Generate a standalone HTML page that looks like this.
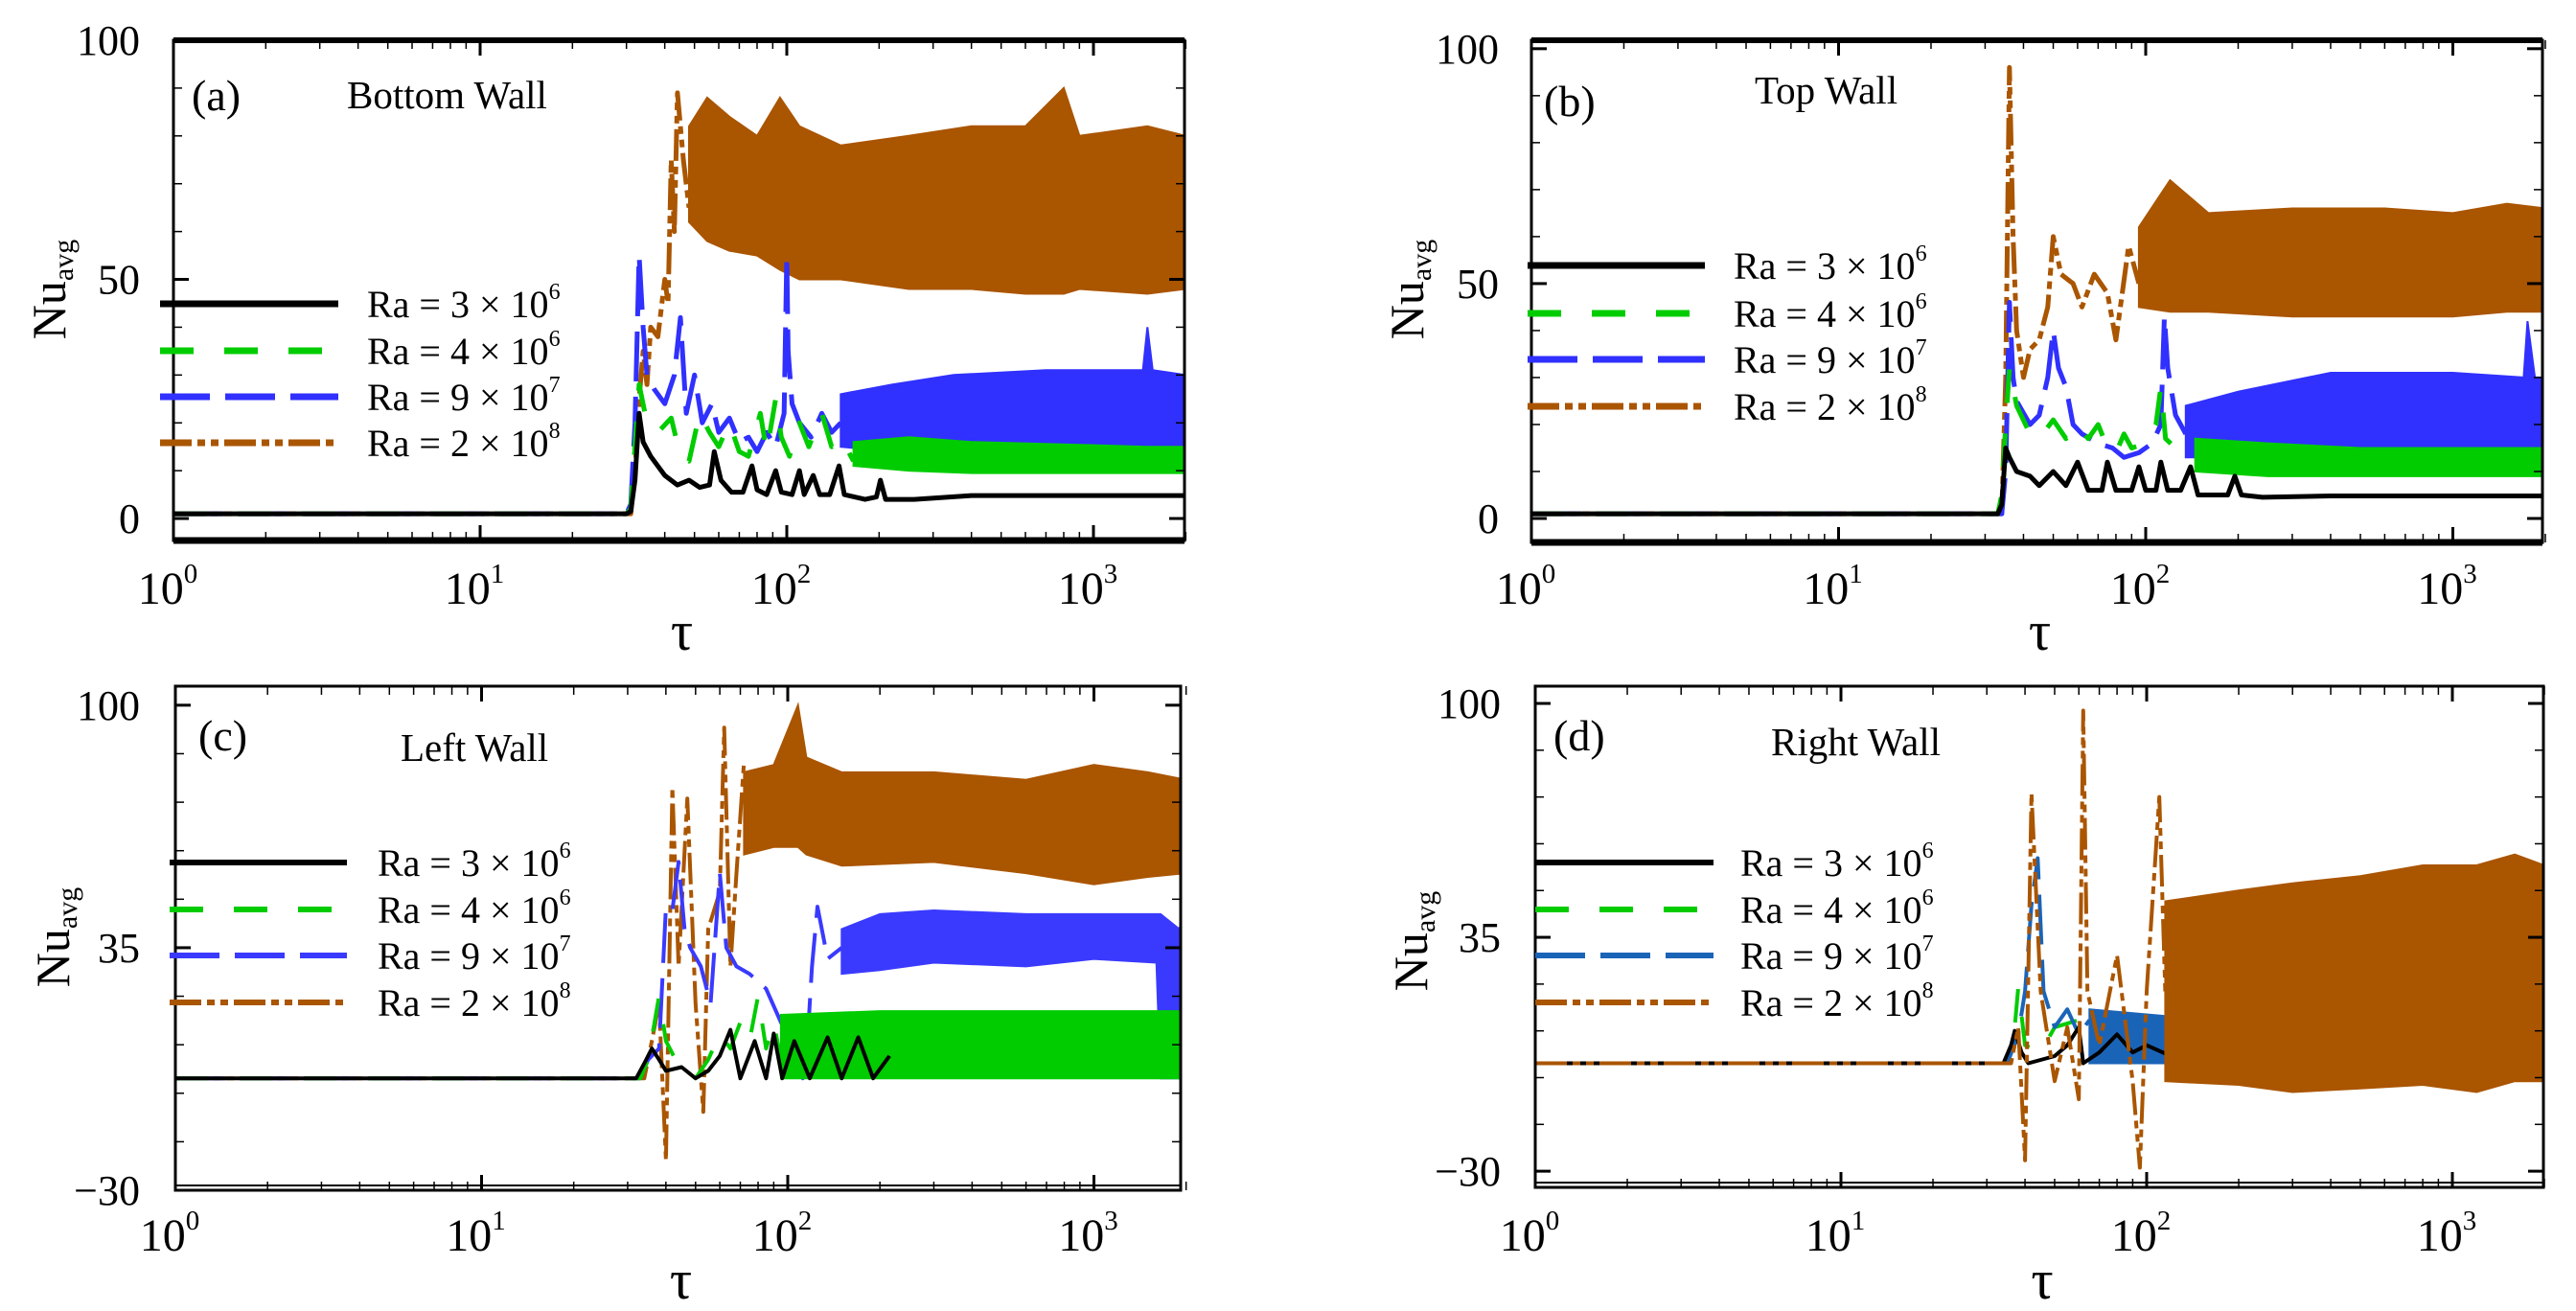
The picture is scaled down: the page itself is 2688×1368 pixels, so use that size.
<!DOCTYPE html>
<html><head><meta charset="utf-8"><style>
html,body{margin:0;padding:0;background:#fff;}
svg{display:block;}
text{font-family:"Liberation Serif",serif;fill:#000;}
</style></head><body>
<svg id="fig" width="2688" height="1368" viewBox="0 0 2688 1368" xmlns="http://www.w3.org/2000/svg"></svg>
<script>
// ---------- data (tau, Nu) traces and (tau, lo, hi) oscillation bands ----------
const A_black=[[1,1],[30,1],[31,1.5],[32,8],[33,22],[34,16],[36,13],[40,9],[44,7],[48,8],[52,6.5],[56,7],[58,14],[61,8],[66,5.5],[72,5.5],[77,11],[80,6],[86,5],[92,10],[96,5.5],[104,5],[110,10],[114,5],[122,9],[128,5],[138,5],[148,11],[154,5],[180,4],[196,4.5],[202,8],[210,4],[260,4],[400,4.8],[2000,4.8]];
const A_green=[[1,1],[30,1],[31,2],[33,28],[35,20],[38,18],[42,21],[45,13],[48,12],[52,22],[56,18],[60,15],[65,20],[70,14],[75,13],[82,22],[86,14],[92,25],[96,17],[102,13],[110,20],[118,15],[130,22],[140,15],[150,17],[165,12]];
const A_greenBand=[[165,11,16],[250,10,17],[400,9.5,16],[800,9.5,15.5],[1500,9.5,15],[2000,9.5,15]];
const A_blue=[[1,1],[30,1],[31,3],[32,20],[33,55],[34,40],[35,30],[37,27],[40,24],[43,30],[45,42],[47,22],[50,30],[53,20],[57,24],[60,18],[65,21],[70,16],[75,17],[80,14],[86,18],[92,15],[98,22],[100,55],[101,35],[104,24],[110,20],[120,17],[130,22],[140,18],[150,20]];
const A_blueBand=[[150,15,26],[220,14,28],[350,13.5,30],[700,13,31],[1200,13,31],[1450,14,31],[1500,14,40],[1560,14,31],[2000,14,30]];
const A_orange=[[1,1],[31,1],[32,10],[33,25],[34,35],[35,28],[36,40],[38,38],[40,50],[41,45],[42,75],[43,60],[44,89],[46,75],[48,65]];
const A_orangeBand=[[48,62,82],[55,58,88],[65,56,84],[80,55,80],[95,52,88],[110,50,82],[150,50,78],[250,48,80],[400,48,82],[600,47,82],[800,47,90],[900,48,80],[1500,47,82],[2000,48,80]];

const B_black=[[1,1],[33,1],[34,3],[35,15],[36,13],[38,10],[42,9],[45,7],[50,10],[55,7],[60,12],[65,6],[72,6],[75,12],[80,6],[90,6],[95,11],[100,6],[108,6],[112,12],[118,6],[130,6],[140,11],[148,5],[185,5],[195,9],[205,5],[240,4.5],[400,4.8],[2000,4.8]];
const B_green=[[1,1],[33,1],[34,5],[35,20],[36,32],[38,24],[42,18],[45,17],[50,21],[55,17],[60,20],[65,17],[70,20],[75,15],[80,14],[85,18],[90,15],[100,16],[108,20],[112,28],[116,17],[130,14],[145,15]];
const B_greenBand=[[145,10,17],[250,9,16],[500,9,15],[1000,9,15],[2000,9,15]];
const B_blue=[[1,1],[34,1],[35,10],[36,46],[37,30],[38,25],[42,20],[45,22],[48,30],[50,40],[52,32],[55,28],[58,20],[62,18],[70,16],[78,15],[85,13],[95,14],[105,16],[112,20],[115,43],[118,32],[125,22],[135,18]];
const B_blueBand=[[135,13,24],[200,13,27],[400,13,31],[1000,13,31],[1700,13,30],[1750,14,42],[1850,13,30],[2000,14,30]];
const B_orange=[[1,1],[34,1],[35,30],[36,96],[37,60],[38,40],[40,30],[42,36],[45,38],[48,45],[50,60],[53,52],[58,50],[62,45],[68,52],[75,48],[80,38],[88,58],[95,50]];
const B_orangeBand=[[95,45,62],[120,44,72],[160,44,65],[300,43,66],[600,43,66],[1000,43,65],[1500,44,67],[2000,44,66]];

const C_black=[[1,0],[32,0],[34,4],[36,8],[38,5],[40,2],[45,3],[50,0],[55,2],[60,6],[65,13],[70,0],[78,10],[85,0],[90,12],[96,0],[105,10],[118,0],[135,11],[150,0],[170,11],[190,0],[215,6]];
const C_green=[[1,0],[33,0],[35,5],[38,22],[40,10],[43,5],[47,2],[50,0],[55,5],[60,12],[65,8],[70,15],[75,10],[80,22],[85,8],[90,15],[95,5]];
const C_greenBand=[[95,0,17],[200,0,18],[500,0,18],[1000,0,18],[2000,0,18]];
const C_blue=[[1,0],[33,0],[35,5],[38,8],[40,46],[42,45],[44,58],[46,40],[48,35],[52,30],[56,20],[60,55],[63,35],[68,30],[75,28],[85,24],[95,15],[105,8],[112,0],[116,10],[120,30],[125,46],[135,32],[150,35]];
const C_blueBand=[[150,28,40],[200,29,44],[300,31,45],[600,30,44],[1000,32,44],[1600,31,44],[1650,0,44],[1900,0,40],[2000,32,46]];
const C_orange=[[1,0],[34,0],[36,10],[38,20],[40,-22],[42,78],[44,30],[47,75],[50,20],[53,-9],[55,40],[60,50],[62,94],[65,30],[68,55],[72,85]];
const C_orangeBand=[[72,60,82],[90,62,84],[108,62,100],[115,60,86],[150,57,82],[300,58,82],[600,55,80],[1000,52,84],[1500,54,82],[2000,55,80]];

const D_black=[[1,0],[34,0],[36,5],[37,9],[39,3],[41,0],[50,2],[55,5],[60,10],[62,0],[70,3],[80,8],[90,3],[100,5],[120,2],[200,2],[2000,1]];
const D_green=[[1,0],[35,0],[37,10],[38,21],[40,5],[45,3],[50,10],[60,12],[70,15],[75,6]];
const D_greenBand=[[75,0,9],[200,0,8],[1000,0,8],[2000,0,8]];
const D_blue=[[1,0],[35,0],[38,8],[40,20],[42,44],[44,57],[46,20],[50,10],[55,15],[60,8],[65,12]];
const D_blueBand=[[65,0,15],[120,0,13],[300,0,12],[1000,0,12],[2000,0,10]];
const D_orange=[[1,0],[36,0],[38,10],[40,-27],[42,75],[45,20],[50,-5],[55,10],[60,-10],[62,98],[64,20],[70,5],[80,30],[90,-5],[95,-29],[100,20],[110,74],[115,20]];
const D_orangeBand=[[115,-5,45],[200,-6,48],[300,-8,50],[500,-7,52],[800,-6,55],[1200,-8,55],[1600,-5,58],[2000,-5,55]];

const xTickLabels=["0","1","2","3"];
const yTicksAB=[0,50,100];
const yTicksCD=[-30,35,100];
const legendLabels=[["3","6"],["4","6"],["9","7"],["2","8"]];

// ---------- layout ----------
const NS="http://www.w3.org/2000/svg";
const svg=document.getElementById('fig');
function mk(tag,attrs,parent){const e=document.createElementNS(NS,tag);for(const k in attrs)e.setAttribute(k,attrs[k]);(parent||svg).appendChild(e);return e;}

const panels=[
 {id:'a',title:'Bottom Wall',x0:181,dec:320,xR:1236,yT:42,yB:564,vMin:-4.6,vMax:100,ticks:yTicksAB,minor:10,lw:5,legW:7,
  series:[[A_orange,A_orangeBand],[A_blue,A_blueBand],[A_green,A_greenBand],[A_black,null]],order:[0,1,2,3],blue:'#3030ff',
  leg:{x1:167,x2:353,ys:[317,366,414,462],tx:383},lab:[200,113],tit:[362,111],nu:[52,302],tlx:146,xly:630,tauy:678},
 {id:'b',title:'Top Wall',x0:1598,dec:320.5,xR:2653,yT:42,yB:566,vMin:-5.1,vMax:101.8,ticks:yTicksAB,minor:10,lw:5,legW:7,
  series:[[B_orange,B_orangeBand],[B_blue,B_blueBand],[B_green,B_greenBand],[B_black,null]],order:[0,1,2,3],blue:'#3030ff',
  leg:{x1:1594,x2:1779,ys:[277,327,375,424],tx:1809},lab:[1611,119],tit:[1831,106],nu:[1469,302],tlx:1564,xly:630,tauy:678},
 {id:'c',title:'Left Wall',x0:183,dec:319.5,xR:1232,yT:716,yB:1242,vMin:-30,vMax:105.1,ticks:yTicksCD,minor:13,lw:4,legW:6,
  series:[[C_orange,C_orangeBand],[C_blue,C_blueBand],[C_green,C_greenBand],[C_black,null]],order:[0,1,2,3],blue:'#3a3aff',
  leg:{x1:177,x2:362,ys:[900,949,997,1046],tx:394},lab:[207,781],tit:[418,792],nu:[56,978],tlx:146,xly:1305,tauy:1355},
 {id:'d',title:'Right Wall',x0:1602,dec:319,xR:2654,yT:716,yB:1239,vMin:-34.5,vMax:104.8,ticks:yTicksCD,minor:13,lw:4,legW:6,
  series:[[D_orange,D_orangeBand],[D_blue,D_blueBand],[D_green,D_greenBand],[D_black,null]],order:[2,1,3,0],blue:'#1a64b8',
  leg:{x1:1602,x2:1788,ys:[900,949,997,1046],tx:1816},lab:[1621,781],tit:[1848,786],nu:[1473,982],tlx:1566,xly:1305,tauy:1355}
];
const orange='#aa5500', green='#00cc00';
const dashes=['33 6 8 6 8 6','52 16','35 32',''];

panels.forEach(p=>{
  const xs=t=>p.x0+p.dec*Math.log10(t);
  const ys=v=>p.yB-(v-p.vMin)/(p.vMax-p.vMin)*(p.yB-p.yT);
  const g=mk('g',{});
  
  
  const cp=mk('clipPath',{id:'clip'+p.id},g);
  mk('rect',{x:p.x0,y:p.yT,width:p.xR-p.x0,height:p.yB-p.yT},cp);
  const colors=[orange,p.blue,green,'#000'];
  const names=['ra-2e8','ra-9e7','ra-4e6','ra-3e6'];
  const dg=mk('g',{'clip-path':'url(#clip'+p.id+')'},g);
  p.order.forEach(i=>{
    const [tr,band]=p.series[i];
    if(band){
      let pts=band.map(b=>xs(b[0]).toFixed(1)+','+ys(b[2]).toFixed(1));
      pts=pts.concat(band.slice().reverse().map(b=>xs(b[0]).toFixed(1)+','+ys(b[1]).toFixed(1)));
      const poly=mk('polygon',{points:pts.join(' '),fill:colors[i],stroke:colors[i],'stroke-width':2},dg);
      
      
    }
    const d='M'+tr.map(q=>xs(q[0]).toFixed(1)+','+ys(q[1]).toFixed(1)).join(' L');
    const path=mk('path',{d:d,fill:'none',stroke:colors[i],'stroke-width':p.lw,'stroke-linejoin':'round','stroke-dasharray':dashes[i]},dg);
    
    
  });
  const thick=(p.id==='a'||p.id==='b');
  const fr=mk('rect',{x:p.x0,y:p.yT,width:p.xR-p.x0,height:p.yB-p.yT,fill:'none',stroke:'#000','stroke-width':3},g);
  
  
  if(thick){
    mk('line',{x1:p.x0,x2:p.xR,y1:p.yT,y2:p.yT,stroke:'#000','stroke-width':6},g);
    mk('line',{x1:p.x0,x2:p.xR,y1:p.yB,y2:p.yB,stroke:'#000','stroke-width':7},g);
  } else {
    mk('line',{x1:p.x0,x2:p.xR,y1:p.yB-5,y2:p.yB-5,stroke:'#000','stroke-width':2},g);
  }
  for(let dcd=0;dcd<4;dcd++){
    for(let m=1;m<10;m++){
      const t=Math.pow(10,dcd)*m; if(t>2000)break;
      const x=xs(t), L=m===1?16:9;
      mk('line',{x1:x,x2:x,y1:p.yB,y2:p.yB-L,stroke:'#000','stroke-width':m===1?3:1.5},g);
      mk('line',{x1:x,x2:x,y1:p.yT,y2:p.yT+L,stroke:'#000','stroke-width':m===1?3:1.5},g);
    }
    const tx=mk('text',{x:xs(Math.pow(10,dcd))-6,y:p.xly,'font-size':48,'text-anchor':'middle'},g);
    
    
    tx.textContent='10';
    const sup=mk('tspan',{'font-size':29,dy:-22},tx); sup.textContent=xTickLabels[dcd];
  }
  for(let v=p.ticks[0];v<=p.ticks[2];v+=p.minor){
    const y=ys(v);
    const maj=p.ticks.indexOf(v)>=0, L=maj?16:9;
    mk('line',{x1:p.x0,x2:p.x0+L,y1:y,y2:y,stroke:'#000','stroke-width':maj?3:1.5},g);
    mk('line',{x1:p.xR,x2:p.xR-L,y1:y,y2:y,stroke:'#000','stroke-width':maj?3:1.5},g);
  }
  p.ticks.forEach(v=>{
    const t=mk('text',{x:p.tlx,y:ys(v)+15,'font-size':44,'text-anchor':'end'},g);
    
    
    t.textContent=v<0?'\u2212'+Math.abs(v):String(v);
  });
  const tau=mk('text',{x:(p.x0+p.xR)/2+3,y:p.tauy,'font-size':58,'text-anchor':'middle'},g);
  
  
  tau.textContent='\u03c4';
  const nu=mk('text',{x:0,y:0,'font-size':50,'text-anchor':'middle',transform:`translate(${p.nu[0]+16},${p.nu[1]}) rotate(-90)`},g);
  
  
  nu.textContent='Nu';
  const sub=mk('tspan',{'font-size':30,dy:8},nu); sub.textContent='avg';
  const lb=mk('text',{x:p.lab[0],y:p.lab[1]+2,'font-size':46},g);
  
  
  lb.textContent='('+p.id+')';
  const tt=mk('text',{x:p.tit[0],y:p.tit[1]+2,'font-size':41},g);
  
  
  tt.textContent=p.title;
  const lcol=['#000',green,p.blue,orange];
  const ldash=['','35 32','52 16','33 6 8 6 8 6'];
  p.leg.ys.forEach((y,i)=>{
    const lg=mk('g',{},g);
    
    
    mk('line',{x1:p.leg.x1,x2:p.leg.x2,y1:y,y2:y,stroke:lcol[i],'stroke-width':p.legW,'stroke-dasharray':ldash[i]},lg);
    const t=mk('text',{x:p.leg.tx,y:y+14,'font-size':40},lg);
    t.textContent='Ra = '+legendLabels[i][0]+' \u00d7 10';
    const s=mk('tspan',{'font-size':24,dy:-19},t); s.textContent=legendLabels[i][1];
  });
});
</script>
</body></html>
